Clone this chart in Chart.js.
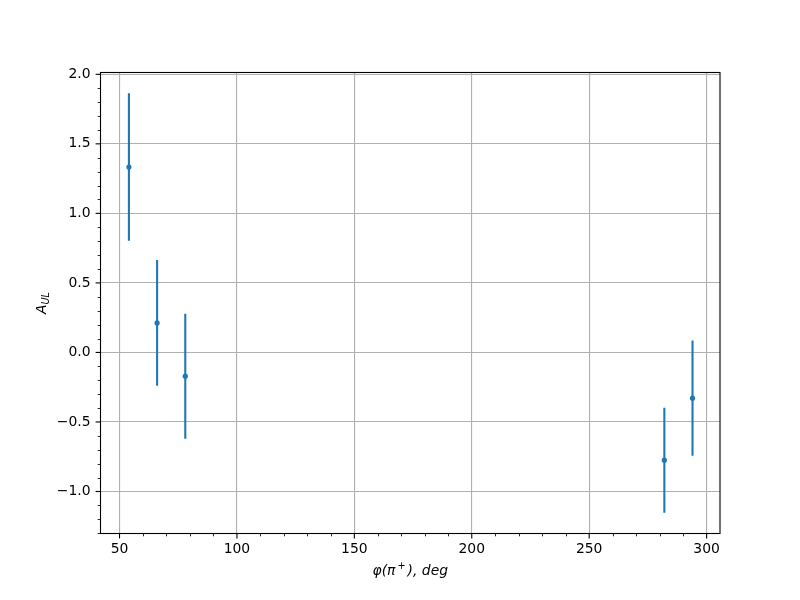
<!DOCTYPE html>
<html><head><meta charset="utf-8">
<script src="https://cdn.jsdelivr.net/npm/chart.js@4"></script>
<style>html,body{margin:0;padding:0;background:#fff}canvas{display:block}</style>
</head><body>
<canvas id="c" width="800" height="600"></canvas>
<script>
const xValues = [54, 66, 78, 282, 294];
const yValues = [1.333, 0.212, -0.171, -0.775, -0.329];
const yErrors = [0.53, 0.452, 0.449, 0.377, 0.414];
const xTicks = [50, 100, 150, 200, 250, 300];
const yTicks = [-1.0, -0.5, 0.0, 0.5, 1.0, 1.5, 2.0];
const xLimits = [41.9, 305.7];
const yLimits = [-1.302, 2.013];
const xTitleParts = ['\u03C6(\u03C0', '+', '), deg'];
const yTitleParts = ['A', 'UL'];

const FONT = '"DejaVu Sans", sans-serif';
const COLOR = '#1f77b4';

const minorX = [];
for (let v = 40; v <= 310; v += 10) minorX.push(v);
const minorY = [];
for (let k = -14; k <= 21; k++) minorY.push(k / 10);

const extras = {
  id: 'extras',
  beforeDatasetsDraw(chart) {
    const ctx = chart.ctx, xs = chart.scales.x, ys = chart.scales.y, a = chart.chartArea;
    ctx.save();
    ctx.beginPath(); ctx.rect(a.left, a.top, a.right - a.left, a.bottom - a.top); ctx.clip();
    ctx.strokeStyle = COLOR; ctx.lineWidth = 2.08; ctx.lineCap = 'butt';
    xValues.forEach((x, i) => {
      const px = xs.getPixelForValue(x);
      ctx.beginPath();
      ctx.moveTo(px, ys.getPixelForValue(yValues[i] + yErrors[i]));
      ctx.lineTo(px, ys.getPixelForValue(yValues[i] - yErrors[i]));
      ctx.stroke();
    });
    ctx.restore();
  },
  afterDraw(chart) {
    const ctx = chart.ctx, xs = chart.scales.x, ys = chart.scales.y, a = chart.chartArea;
    ctx.save();
    ctx.strokeStyle = '#000';
    ctx.lineWidth = 1.1;
    ctx.strokeRect(a.left, a.top, a.right - a.left, a.bottom - a.top);
    ctx.lineWidth = 0.84;
    minorX.forEach(v => {
      if (v < xLimits[0] || v > xLimits[1] || xTicks.includes(v)) return;
      const p = Math.round(xs.getPixelForValue(v)) + 0.5;
      ctx.beginPath(); ctx.moveTo(p, a.bottom); ctx.lineTo(p, a.bottom + 2.8); ctx.stroke();
    });
    minorY.forEach(v => {
      if (v < yLimits[0] || v > yLimits[1] || yTicks.some(t => Math.abs(t - v) < 1e-9)) return;
      const p = Math.round(ys.getPixelForValue(v)) + 0.5;
      ctx.beginPath(); ctx.moveTo(a.left, p); ctx.lineTo(a.left - 2.8, p); ctx.stroke();
    });
    ctx.lineWidth = 1.1;
    xTicks.forEach(v => {
      const p = xs.getPixelForValue(v);
      ctx.beginPath(); ctx.moveTo(p, a.bottom); ctx.lineTo(p, a.bottom + 4.9); ctx.stroke();
    });
    yTicks.forEach(v => {
      const p = ys.getPixelForValue(v);
      ctx.beginPath(); ctx.moveTo(a.left, p); ctx.lineTo(a.left - 4.9, p); ctx.stroke();
    });
    ctx.fillStyle = '#000';
    ctx.textBaseline = 'alphabetic';
    ctx.textAlign = 'left';
    const big = 'italic 13.9px ' + FONT, small = 'italic 9.7px ' + FONT;
    ctx.font = big; const w0 = ctx.measureText(xTitleParts[0]).width;
    ctx.font = small; const w1 = ctx.measureText(xTitleParts[1]).width;
    ctx.font = big; const w2 = ctx.measureText(xTitleParts[2]).width;
    const total = w0 + w1 + 4 + w2;
    let x0 = (a.left + a.right) / 2 - total / 2;
    const base = 575;
    ctx.font = big; ctx.fillText(xTitleParts[0], x0, base); x0 += w0 + 2;
    ctx.font = small; ctx.fillText(xTitleParts[1], x0, base - 6); x0 += w1 + 2;
    ctx.font = big; ctx.fillText(xTitleParts[2], x0, base);
    ctx.save();
    ctx.translate(46, (a.top + a.bottom) / 2);
    ctx.rotate(-Math.PI / 2);
    ctx.font = big; const wa = ctx.measureText(yTitleParts[0]).width;
    ctx.font = small; const wb = ctx.measureText(yTitleParts[1]).width;
    let y0 = -(wa + wb) / 2;
    ctx.font = big; ctx.fillText(yTitleParts[0], y0, 0); y0 += wa;
    ctx.font = small; ctx.fillText(yTitleParts[1], y0, 3);
    ctx.restore();
    ctx.restore();
  }
};

new Chart(document.getElementById('c'), {
  type: 'scatter',
  data: {
    datasets: [{
      data: xValues.map((x, i) => ({ x: x, y: yValues[i] })),
      backgroundColor: COLOR,
      borderColor: COLOR,
      borderWidth: 0,
      pointRadius: 2.6,
      pointHoverRadius: 2.6
    }]
  },
  options: {
    responsive: false,
    devicePixelRatio: 1,
    animation: false,
    events: [],
    layout: { padding: { left: 0, top: 72.5, right: 80, bottom: 0 } },
    plugins: { legend: { display: false }, tooltip: { enabled: false } },
    scales: {
      x: {
        type: 'linear',
        min: xLimits[0], max: xLimits[1],
        afterBuildTicks: s => { s.ticks = xTicks.map(v => ({ value: v })); },
        afterFit: s => { s.height = 66.5; },
        grid: { color: '#b0b0b0', lineWidth: 1.1, drawTicks: false },
        border: { display: false },
        ticks: {
          color: '#000', font: { family: FONT, size: 13.9 }, padding: 8,
          maxRotation: 0, autoSkip: false,
          callback: v => String(v)
        }
      },
      y: {
        type: 'linear',
        min: yLimits[0], max: yLimits[1],
        afterBuildTicks: s => { s.ticks = yTicks.map(v => ({ value: v })); },
        afterFit: s => { s.width = 100.5; },
        grid: { color: '#b0b0b0', lineWidth: 1.1, drawTicks: false },
        border: { display: false },
        ticks: {
          color: '#000', font: { family: FONT, size: 13.9 }, padding: 10,
          autoSkip: false,
          callback: v => (v < 0 ? '\u2212' : '') + Math.abs(v).toFixed(1)
        }
      }
    }
  },
  plugins: [extras]
});
</script>
</body></html>
